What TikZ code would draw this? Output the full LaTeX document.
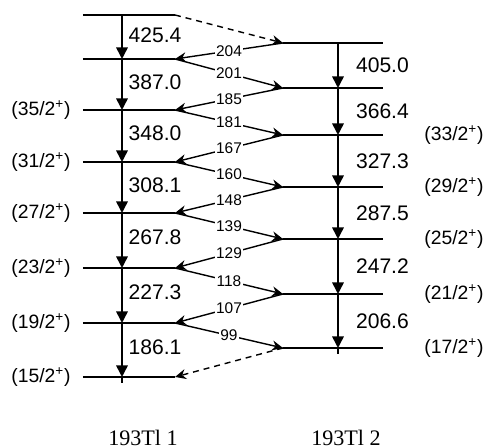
\documentclass[tikz,border=0pt]{standalone}
\usepackage{fontspec}
\setmainfont{Liberation Sans}
\newfontfamily\bandfont{Liberation Serif}
\usetikzlibrary{arrows.meta}

\begin{document}
\begin{tikzpicture}[x=0.02cm, y=-0.02cm, >={Triangle[length=2.3mm,width=2.3mm]},
	level/.style={line width=1.6pt},
	stem/.style={line width=0.9pt},
	cross/.style={line width=0.8pt, -{Stealth[length=2.2mm,width=2mm]}},
	dashline/.style={dash pattern=on 3.4pt off 2.8pt},
	elab/.style={font=\fontsize{12}{12}\selectfont, anchor=west},
	glab/.style={font=\fontsize{8.8}{9}\selectfont, fill=white, inner sep=0.8pt},
	spin/.style={font=\fontsize{11}{11}\selectfont}]
	\useasboundingbox (0,0) rectangle (488,448);
	% band 1 levels
	\foreach \y [count=\i from 0] in {15,59,110,162,213,268,323,377} {
		\coordinate (aw\i) at (83,\y); \coordinate (a\i) at (122,\y); \coordinate (ae\i) at (175,\y);
		\draw[level] (aw\i) -- (ae\i);
	}
	% band 2 levels
	\foreach \y [count=\i from 0] in {43,88,135,187,239,294,348} {
		\coordinate (bw\i) at (283,\y); \coordinate (b\i) at (338,\y); \coordinate (be\i) at (383,\y);
		\draw[level] (bw\i) -- (be\i);
	}
	% in-band transitions
	\foreach \i/\j/\e in {0/1/425.4, 1/2/387.0, 2/3/348.0, 3/4/308.1, 4/5/267.8, 5/6/227.3, 6/7/186.1}
		\draw[stem, ->] (a\i) -- node[elab, pos=0.45] {\e} (a\j);
	\foreach \i/\j/\e in {0/1/405.0, 1/2/366.4, 2/3/327.3, 3/4/287.5, 4/5/247.2, 5/6/206.6}
		\draw[stem, ->] (b\i) -- node[elab, xshift=6.5pt] {\e} (b\j);
	\coordinate (a7s) at (122,383); \coordinate (b6s) at (338,358);
	\draw[stem, dashline] (a7) -- (a7s);
	\draw[stem, dashline] (b6) -- (b6s);
	% linking transitions
	\draw[cross, dashline] (ae0) -- (bw0);
	\foreach \s/\t/\e in {bw0/ae1/204, ae1/bw1/201, bw1/ae2/185, ae2/bw2/181, bw2/ae3/167, ae3/bw3/160, bw3/ae4/148,
		ae4/bw4/139, bw4/ae5/129, ae5/bw5/118, bw5/ae6/107, ae6/bw6/99}
		\draw[cross] (\s) -- node[glab] {\e} (\t);
	\draw[cross, dashline] (bw6) -- (ae7);
	% spins
	\foreach \i/\s in {2/35, 3/31, 4/27, 5/23, 6/19, 7/15}
		\node[spin, anchor=east, xshift=-3.5pt] (sa\i) at (aw\i) {(\s/2\textsuperscript{+})};
	\foreach \i/\s in {2/33, 3/29, 4/25, 5/21, 6/17}
		\node[spin, anchor=west, xshift=20pt] (sb\i) at (be\i) {(\s/2\textsuperscript{+})};
	% band names
	\node[font=\bandfont\fontsize{12.6}{13}\selectfont] (n1) at (143,438) {193Tl 1};
	\node[font=\bandfont\fontsize{12.6}{13}\selectfont] (n2) at (346,438) {193Tl 2};
\end{tikzpicture}
\end{document}
